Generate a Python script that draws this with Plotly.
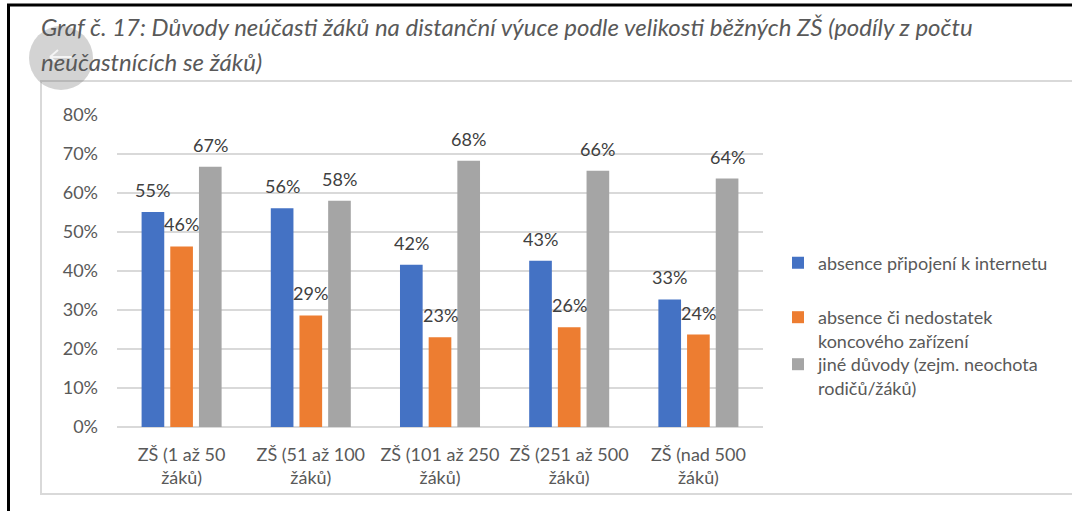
import plotly.graph_objects as go

categories = ["ZŠ (1 až 50<br>žáků)", "ZŠ (51 až 100<br>žáků)", "ZŠ (101 až 250<br>žáků)",
              "ZŠ (251 až 500<br>žáků)", "ZŠ (nad 500<br>žáků)"]
series_names = ["absence připojení k internetu",
                "absence či nedostatek<br>koncového zařízení",
                "jiné důvody (zejm. neochota<br>rodičů/žáků)"]
internet = [0.551, 0.561, 0.416, 0.426, 0.327]
zarizeni = [0.463, 0.286, 0.230, 0.256, 0.237]
jine = [0.667, 0.580, 0.683, 0.657, 0.637]
colors = ["#4472C4", "#ED7D31", "#A5A5A5"]
title_line1 = "Graf č. 17: Důvody neúčasti žáků na distanční výuce podle velikosti běžných ZŠ (podíly z počtu"
title_line2 = "neúčastnících se žáků)"

W, H = 1072, 511
L, R, T, B = 117, 763, 115, 427
pw, ph = R - L, B - T


def px(x):
    return (x - L) / pw


def py(y):
    return (B - y) / ph


FONT = "Lato, Carlito, 'Open Sans', sans-serif"
TXT = "#595959"
FS = 18

fig = go.Figure()
all_series = [internet, zarizeni, jine]
legend_ids = ["legend", "legend2", "legend3"]
for name, vals, col, lg in zip(series_names, all_series, colors, legend_ids):
    fig.add_trace(go.Bar(x=categories, y=vals, name=name, marker_color=col,
                         marker_line_width=0, legend=lg))

bargap = 0.334
slot = (pw / len(categories)) * (1 - bargap) / 3
annotations = []
for i, vals in enumerate(all_series):
    for c, v in zip(categories, vals):
        annotations.append(dict(x=c, y=v, xref="x", yref="y", text=f"{round(v * 100)}%",
                                showarrow=False, xshift=(i - 1) * slot, yshift=22,
                                yanchor="middle", font=dict(size=FS, color="#404040", family=FONT)))

annotations.append(dict(x=px(39), y=py(27), xref="paper", yref="paper", xanchor="left", yanchor="middle",
                        text=f"<i>{title_line1}</i>", showarrow=False,
                        font=dict(size=24, color=TXT, family=FONT)))
annotations.append(dict(x=px(39), y=py(62), xref="paper", yref="paper", xanchor="left", yanchor="middle",
                        text=f"<i>{title_line2}</i>", showarrow=False,
                        font=dict(size=24, color=TXT, family=FONT)))

arrow_path = (f"M {px(50)} {py(57)} L {px(72)} {py(57)} "
              f"M {px(50)} {py(57)} L {px(58)} {py(50)} "
              f"M {px(50)} {py(57)} L {px(58)} {py(64)}")

shapes = [
    dict(type="rect", xref="paper", yref="paper", x0=px(41), x1=px(1090), y0=py(494), y1=py(81),
         line=dict(color="#d9d9d9", width=2), fillcolor="rgba(0,0,0,0)", layer="below"),
    dict(type="rect", xref="paper", yref="paper", x0=px(8.5), x1=px(1100), y0=py(530), y1=py(5),
         line=dict(color="black", width=3), fillcolor="rgba(0,0,0,0)"),
    dict(type="circle", xref="paper", yref="paper", x0=px(29), x1=px(93), y0=py(90), y1=py(26),
         line=dict(width=0), fillcolor="rgba(110,110,110,0.3)"),
    dict(type="path", xref="paper", yref="paper", path=arrow_path,
         line=dict(color="rgba(255,255,255,0.75)", width=2)),
]

leg_common = dict(xanchor="left", yanchor="middle", valign="top", bgcolor="rgba(0,0,0,0)",
                  font=dict(size=FS, color=TXT, family=FONT), borderwidth=0)
lx = px(778)

fig.update_layout(
    width=W, height=H,
    margin=dict(l=L, r=W - R, t=T, b=H - B, pad=0),
    paper_bgcolor="white", plot_bgcolor="white",
    font=dict(family=FONT, color=TXT, size=FS),
    barmode="group", bargap=bargap, bargroupgap=0.21,
    showlegend=True,
    legend=dict(x=lx, y=py(263), **leg_common),
    legend2=dict(x=lx, y=py(329), **leg_common),
    legend3=dict(x=lx, y=py(376), **leg_common),
    xaxis=dict(showline=False, ticks="", tickfont=dict(size=FS, color=TXT, family=FONT),
               ticklabelstandoff=15),
    yaxis=dict(range=[0, 0.8], dtick=0.1, tickformat=".0%", showgrid=True, gridcolor="#d9d9d9",
               gridwidth=1.5, zeroline=True, zerolinecolor="#d9d9d9", zerolinewidth=1.5,
               showline=False, ticks="", tickfont=dict(size=FS, color=TXT, family=FONT),
               ticklabelstandoff=18),
    annotations=annotations,
    shapes=shapes,
)

fig.write_html("out.html", config={"displayModeBar": False},
               post_script="document.body.style.margin='0';document.body.style.overflow='hidden';")
